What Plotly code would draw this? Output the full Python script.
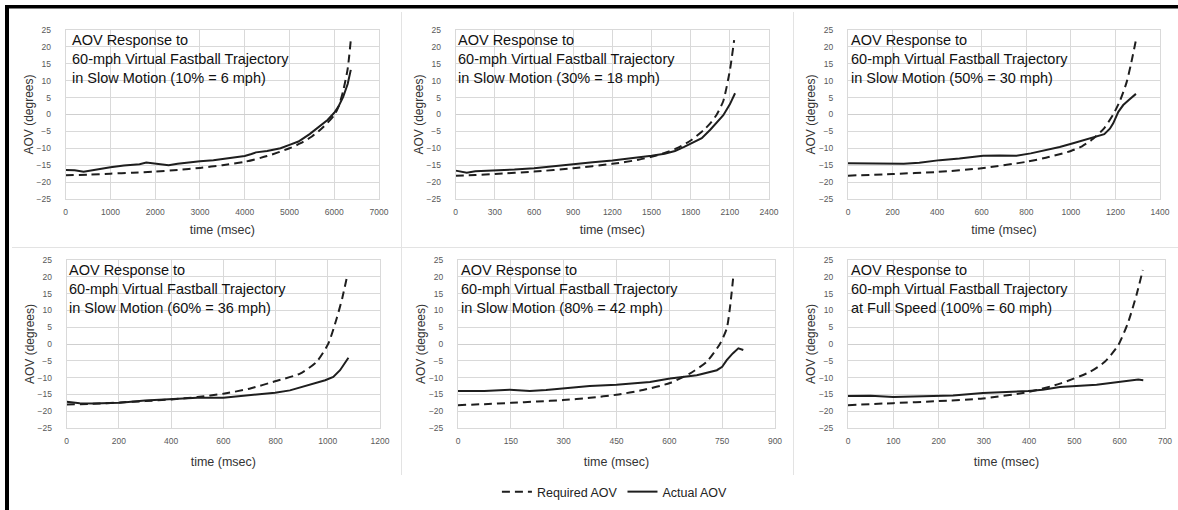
import plotly.graph_objects as go

W, H = 1178, 510

# ---------------- data ----------------
panel_titles = [
    "AOV Response to<br>60-mph Virtual Fastball Trajectory<br>in Slow Motion (10% = 6 mph)",
    "AOV Response to<br>60-mph Virtual Fastball Trajectory<br>in Slow Motion (30% = 18 mph)",
    "AOV Response to<br>60-mph Virtual Fastball Trajectory<br>in Slow Motion (50% = 30 mph)",
    "AOV Response to<br>60-mph Virtual Fastball Trajectory<br>in Slow Motion (60% = 36 mph)",
    "AOV Response to<br>60-mph Virtual Fastball Trajectory<br>in Slow Motion (80% = 42 mph)",
    "AOV Response to<br>60-mph Virtual Fastball Trajectory<br>at Full Speed (100% = 60 mph)",
]
x_max = [7000, 2400, 1400, 1200, 900, 700]
x_step = [1000, 300, 200, 200, 150, 100]

# 10 %
t_req_10 = [0, 500, 1000, 1500, 2000, 2500, 3000, 3500, 4000, 4500, 5000, 5250, 5500, 5750, 6000, 6100, 6200, 6300, 6370]
aov_req_10 = [-18.0, -17.8, -17.5, -17.2, -16.9, -16.4, -15.8, -15.0, -14.0, -12.3, -10.0, -8.5, -6.5, -3.8, -0.2, 2.5, 7.0, 13.5, 22.0]
t_act_10 = [0, 200, 400, 700, 1000, 1300, 1500, 1650, 1800, 1950, 2100, 2300, 2500, 2800, 3000, 3300, 3600, 3800, 4000, 4150, 4250, 4500, 4800, 5000, 5200, 5450, 5650, 5850, 6000, 6100, 6200, 6300, 6370]
aov_act_10 = [-16.4, -16.5, -16.9, -16.2, -15.6, -15.1, -14.9, -14.7, -14.2, -14.4, -14.8, -15.0, -14.6, -14.0, -13.8, -13.5, -13.0, -12.6, -12.3, -11.7, -11.2, -10.8, -10.0, -9.0, -8.0, -5.8, -3.8, -1.6, 0.5, 2.5, 5.2, 9.0, 13.2]

# 30 %
t_req_30 = [0, 150, 300, 600, 900, 1200, 1400, 1500, 1600, 1700, 1800, 1900, 1950, 2000, 2050, 2100, 2133]
aov_req_30 = [-18.1, -17.9, -17.6, -16.9, -15.9, -14.6, -13.4, -12.5, -11.4, -9.9, -7.7, -4.6, -2.6, 0.0, 4.0, 13.0, 22.0]
t_act_30 = [0, 85, 150, 300, 450, 600, 775, 900, 1050, 1200, 1350, 1500, 1600, 1680, 1750, 1800, 1885, 1950, 2000, 2050, 2100, 2140]
aov_act_30 = [-16.6, -17.2, -16.8, -16.6, -16.3, -15.9, -15.2, -14.5, -14.1, -13.6, -13.0, -12.2, -11.6, -10.8, -9.6, -8.7, -7.0, -4.5, -2.5, -0.2, 3.0, 6.3]

# 50 %
t_req_50 = [0, 200, 400, 600, 800, 900, 1000, 1050, 1100, 1150, 1190, 1220, 1250, 1270, 1292]
aov_req_50 = [-18.1, -17.6, -17.0, -15.9, -14.0, -12.6, -10.8, -9.4, -7.2, -4.0, 0.0, 4.0, 9.5, 15.0, 22.0]
t_act_50 = [0, 120, 250, 320, 412, 500, 606, 680, 756, 820, 890, 950, 1010, 1080, 1150, 1175, 1190, 1213, 1235, 1260, 1292]
aov_act_50 = [-14.4, -14.5, -14.6, -14.3, -13.5, -13.0, -12.2, -12.1, -12.2, -11.5, -10.5, -9.6, -8.5, -7.2, -5.8, -4.2, -2.6, 0.8, 2.8, 4.3, 6.1]

# 60 %
t_req_60 = [0, 100, 204, 300, 402, 500, 600, 700, 798, 894, 957, 1002, 1034, 1055, 1075]
aov_req_60 = [-18.0, -17.8, -17.4, -17.0, -16.5, -15.8, -14.8, -13.3, -11.1, -8.8, -5.3, 0.1, 7.6, 13.5, 20.5]
t_act_60 = [0, 50, 100, 204, 300, 402, 500, 600, 700, 798, 855, 900, 945, 990, 1021, 1047, 1079]
aov_act_60 = [-17.2, -17.6, -17.7, -17.5, -16.8, -16.3, -16.0, -16.0, -15.3, -14.5, -13.8, -12.8, -11.8, -10.8, -9.8, -7.8, -4.1]

# 80 %
t_req_80 = [0, 75, 152, 225, 298, 375, 450, 525, 602, 658, 706, 744, 763, 773, 782]
aov_req_80 = [-18.2, -17.9, -17.5, -17.1, -16.7, -16.0, -15.1, -13.7, -11.6, -8.8, -5.3, 0.1, 4.6, 11.6, 20.5]
t_act_80 = [0, 75, 147, 204, 250, 298, 374, 450, 545, 602, 678, 735, 750, 763, 780, 796, 810]
aov_act_80 = [-14.0, -14.0, -13.6, -14.0, -13.7, -13.3, -12.5, -12.1, -11.3, -10.3, -9.3, -7.8, -6.8, -4.8, -2.8, -1.3, -1.8]

# 100 %
t_req_100 = [0, 100, 199, 298, 398, 468, 534, 567, 597, 619, 637, 651]
aov_req_100 = [-18.2, -17.6, -17.0, -16.2, -14.3, -11.8, -8.3, -5.3, -0.3, 6.6, 14.6, 22.0]
t_act_100 = [0, 50, 100, 170, 232, 298, 350, 398, 430, 468, 549, 600, 641, 652]
aov_act_100 = [-15.5, -15.4, -15.8, -15.5, -15.3, -14.6, -14.3, -14.0, -13.6, -12.8, -12.1, -11.3, -10.6, -10.8]

required = [(t_req_10, aov_req_10), (t_req_30, aov_req_30), (t_req_50, aov_req_50),
            (t_req_60, aov_req_60), (t_req_80, aov_req_80), (t_req_100, aov_req_100)]
actual = [(t_act_10, aov_act_10), (t_act_30, aov_act_30), (t_act_50, aov_act_50),
          (t_act_60, aov_act_60), (t_act_80, aov_act_80), (t_act_100, aov_act_100)]

# ---------------- layout (pixel boxes) ----------------
# plot areas: (left, right, top, bottom) in pixels
boxes = [
    (65.7, 379, 30, 199),
    (455.7, 769, 30, 199),
    (848, 1160, 30, 199),
    (66.7, 380, 260, 428),
    (458, 775, 260, 428),
    (848, 1165, 260, 428),
]
text_offset = [6, 2.6, 2.7, 2.6, 2.7, 3]
xtitle_standoff = [9, 9, 9, 12, 12, 12]

LINE = "#1e1e1e"
GRID = "#d9d9d9"
TICK = "#595959"
FONT = "Liberation Sans, Arial, sans-serif"

fig = go.Figure()
layout = dict(
    width=W, height=H,
    margin=dict(l=0, r=0, t=0, b=0),
    paper_bgcolor="white", plot_bgcolor="white",
    font=dict(family=FONT, color="#222"),
    showlegend=True,
    legend=dict(orientation="h", x=0.522, xanchor="center", y=1 - 492 / H, yanchor="middle",
                font=dict(size=12.5, color="#222", family=FONT), bgcolor="rgba(0,0,0,0)",
                itemwidth=30, tracegroupgap=0),
)

annotations = []
shapes = []
for i in range(6):
    n = i + 1
    xs = "" if n == 1 else str(n)
    l, r, t, b = boxes[i]
    layout[f"xaxis{xs}"] = dict(
        domain=[l / W, r / W], anchor=f"y{xs}", range=[0, x_max[i]], dtick=x_step[i], tick0=0,
        showgrid=True, gridcolor=GRID, gridwidth=1, zeroline=False,
        showline=True, linecolor=GRID, linewidth=1, mirror=True,
        ticks="", tickfont=dict(size=8.5, color=TICK, family=FONT), ticklabelstandoff=5,
        title=dict(text="time (msec)", font=dict(size=12.5, color="#333", family=FONT),
                   standoff=xtitle_standoff[i]),
        automargin=False, fixedrange=True,
    )
    layout[f"yaxis{xs}"] = dict(
        domain=[1 - b / H, 1 - t / H], anchor=f"x{xs}", range=[-25, 25], dtick=5, tick0=0,
        showgrid=True, gridcolor=GRID, gridwidth=1, zeroline=True, zerolinecolor="#cfcfcf", zerolinewidth=1,
        showline=True, linecolor=GRID, linewidth=1, mirror=True,
        ticks="", tickfont=dict(size=8.5, color=TICK, family=FONT), ticklabelstandoff=12,
        title=dict(text="AOV (degrees)", font=dict(size=12, color="#333", family=FONT), standoff=0),
        automargin=False, fixedrange=True,
    )
    tr, vr = required[i]
    ta, va = actual[i]
    fig.add_trace(go.Scatter(x=tr, y=vr, mode="lines", name="Required AOV",
                             line=dict(color=LINE, width=2, dash="8px,5px", shape="spline", smoothing=0.6),
                             xaxis=f"x{xs}", yaxis=f"y{xs}", showlegend=(i == 0), legendrank=1))
    fig.add_trace(go.Scatter(x=ta, y=va, mode="lines", name="Actual AOV",
                             line=dict(color=LINE, width=2),
                             xaxis=f"x{xs}", yaxis=f"y{xs}", showlegend=(i == 0), legendrank=2))
    annotations.append(dict(
        text=panel_titles[i], xref="paper", yref="paper",
        x=(l + text_offset[i] - 1) / W, y=1 - (t + 1) / H, xanchor="left", yanchor="top",
        align="left", showarrow=False, font=dict(size=14.5, color="#111", family=FONT),
        borderpad=0,
    ))

# decorative separators between the individual chart objects
SEP = "#e3e3e3"
shapes += [
    dict(type="line", xref="paper", yref="paper", x0=401.5 / W, x1=401.5 / W, y0=1 - 475 / H, y1=1 - 12 / H,
         line=dict(color=SEP, width=1)),
    dict(type="line", xref="paper", yref="paper", x0=793.5 / W, x1=793.5 / W, y0=1 - 475 / H, y1=1 - 12 / H,
         line=dict(color=SEP, width=1)),
    dict(type="line", xref="paper", yref="paper", x0=12 / W, x1=1, y0=1 - 247.5 / H, y1=1 - 247.5 / H,
         line=dict(color=SEP, width=1)),
]
# black frame (top and left)
shapes += [
    dict(type="rect", xref="paper", yref="paper", x0=5 / W, x1=1, y0=1 - 8.5 / H, y1=1 - 5 / H,
         fillcolor="black", line=dict(width=0)),
    dict(type="rect", xref="paper", yref="paper", x0=5 / W, x1=9 / W, y0=0, y1=1 - 5 / H,
         fillcolor="black", line=dict(width=0)),
]

layout["annotations"] = annotations
layout["shapes"] = shapes
fig.update_layout(**layout)
fig.write_html("out.html")
